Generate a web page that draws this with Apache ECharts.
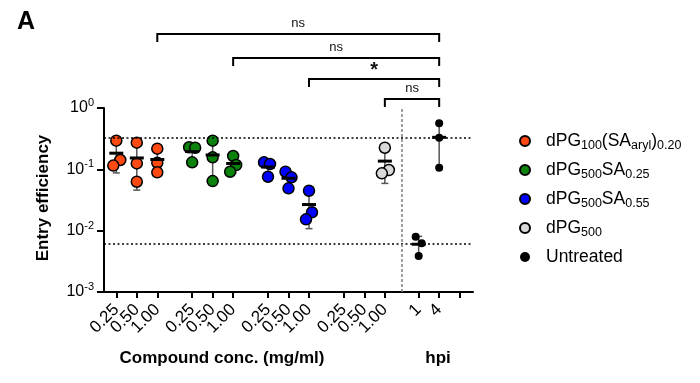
<!DOCTYPE html>
<html><head><meta charset="utf-8">
<script src="https://cdn.jsdelivr.net/npm/echarts@6/dist/echarts.min.js"></script>
<style>html,body{margin:0;padding:0;background:#fff}#c{width:700px;height:383px}</style>
</head><body><div id="c"></div>
<script>
// ---------------- DATA ----------------
const concLabels = ['0.25', '0.50', '1.00'];
const hpiLabels = ['1', '4'];
const seriesNames = ['dPG100(SAaryl)0.20', 'dPG500SA0.25', 'dPG500SA0.55', 'dPG500', 'Untreated'];
const orangeVals = [[0.293, 0.142, 0.115], [0.272, 0.125, 0.0628], [0.217, 0.128, 0.0893]];
const greenVals = [[0.229, 0.225, 0.130], [0.293, 0.157, 0.0644], [0.165, 0.1175, 0.0914]];
const blueVals = [[0.130, 0.122, 0.0757], [0.0914, 0.074, 0.049], [0.0448, 0.0199, 0.0153]];
const dpg500Vals = [[], [], [0.225, 0.0974, 0.086]];
const untreatedVals = [[0.00796, 0.00621, 0.00385], [0.563, 0.328, 0.106]];
const sigLabels = ['ns', 'ns', '*', 'ns'];
const sigFrom = [[0, 2], [1, 2], [2, 2], [3, 2]]; // [compound group, conc index] vs Untreated 4 hpi
const yTickValues = [0.001, 0.01, 0.1, 1];

// ---------------- LAYOUT / STYLE ----------------
const FONT = 'Arial, "Liberation Sans", sans-serif';
const X_MIN = 0, X_MAX = 18;
const groupStart = [0.6, 4.3, 8.0, 11.7];
const hpiStart = 15.35;
const dividerX = 14.5;
const jitter = [
  [[0, 4, -3], [0, 0, 0], [0, 0, 0]],
  [[-3, 3, 0], [0, 0, 0], [0, 3, -3]],
  [[-4, 2, 0], [-3, 3, 0], [0, 3, -3]],
  [[], [], [0, 4, -3]],
  [[-3, 3, 0], [0, 0, 0]]
];
const colors = ['#FF4A12', '#0B820B', '#0000FF', '#D9D9D9', '#000000'];
const bracketLift = [74, 50, 29, 9];
const legendRich = {
  'dPG100(SAaryl)0.20': '{n|dPG}{s|100}{n|(SA}{s|aryl}{n|)}{s|0.20}',
  'dPG500SA0.25': '{n|dPG}{s|500}{n|SA}{s|0.25}',
  'dPG500SA0.55': '{n|dPG}{s|500}{n|SA}{s|0.55}',
  'dPG500': '{n|dPG}{s|500}',
  'Untreated': '{n|Untreated}'
};

const allVals = [orangeVals, greenVals, blueVals, dpg500Vals, untreatedVals];
function xOf(g, i) { return g < 4 ? groupStart[g] + i : hpiStart + i; }
function stats(a) {
  const m = a.reduce((s, v) => s + v, 0) / a.length;
  const sd = Math.sqrt(a.reduce((s, v) => s + (v - m) * (v - m), 0) / (a.length - 1));
  return { m, sd };
}

const tickXs = [];
const labelXs = [X_MIN];
const labelMap = {};
for (let g = 0; g < 4; g++) concLabels.forEach((l, i) => { const x = xOf(g, i); tickXs.push(x); labelXs.push(x); labelMap[x.toFixed(3)] = l; });
hpiLabels.forEach((l, i) => { const x = xOf(4, i); tickXs.push(x); labelXs.push(x); labelMap[x.toFixed(3)] = l; });
tickXs.push(xOf(4, hpiLabels.length));
labelXs.push(X_MAX);

const statData = [];
const series = [];
allVals.forEach((vals, g) => {
  const data = [];
  vals.forEach((reps, i) => {
    if (!reps.length) return;
    const x = xOf(g, i);
    reps.forEach((v, k) => data.push({ value: [x, v], symbolOffset: [jitter[g][i][k] || 0, 0] }));
    const s = stats(reps);
    statData.push([x, s.m, Math.max(s.m - s.sd, 1e-4), s.m + s.sd]);
  });
  const isU = g === 4;
  const ser = {
    name: seriesNames[g], type: 'scatter', data, z: 3,
    symbol: 'circle', symbolSize: isU ? 8 : 11,
    itemStyle: { color: colors[g], borderColor: '#000', borderWidth: isU ? 0 : 1.5, opacity: 1 },
    emphasis: { disabled: true }
  };
  if (isU) {
    const m1 = stats(untreatedVals[0]).m, m4 = stats(untreatedVals[1]).m;
    ser.markLine = {
      silent: true, symbol: 'none', label: { show: false }, animation: false, precision: 8,
      data: [
        { yAxis: m4, lineStyle: { color: '#000', type: [2, 2.5], width: 1.5 } },
        { yAxis: m1, lineStyle: { color: '#000', type: [2, 2.5], width: 1.5 } },
        { xAxis: dividerX, lineStyle: { color: '#808080', type: [3, 2], width: 1.5 } }
      ]
    };
  }
  series.push(ser);
});

series.push({
  type: 'custom', z: 2, data: statData, silent: true,
  encode: { x: 0, y: 1 },
  renderItem(params, api) {
    const x = api.value(0);
    const pLo = api.coord([x, api.value(2)]), pHi = api.coord([x, api.value(3)]);
    const st = { stroke: '#555', lineWidth: 1.5 };
    return { type: 'group', children: [
      { type: 'line', shape: { x1: pLo[0], y1: pLo[1], x2: pHi[0], y2: pHi[1] }, style: st },
      { type: 'line', shape: { x1: pLo[0] - 3.5, y1: pLo[1], x2: pLo[0] + 3.5, y2: pLo[1] }, style: st },
      { type: 'line', shape: { x1: pHi[0] - 3.5, y1: pHi[1], x2: pHi[0] + 3.5, y2: pHi[1] }, style: st }
    ] };
  }
});
series.push({
  type: 'custom', z: 4, data: statData, silent: true,
  encode: { x: 0, y: 1 },
  renderItem(params, api) {
    const p = api.coord([api.value(0), api.value(1)]);
    return { type: 'rect', shape: { x: p[0] - 7, y: p[1] - 1.5, width: 14, height: 3 }, style: { fill: '#000' } };
  }
});
const bracketData = sigFrom.map((f, k) => [xOf(f[0], f[1]), xOf(4, 1), k]);
series.push({
  type: 'custom', z: 5, clip: false, silent: true, data: bracketData,
  encode: { x: 0, y: 2 },
  renderItem(params, api) {
    const k = api.value(2);
    const p1 = api.coord([api.value(0), 1]), p2 = api.coord([api.value(1), 1]);
    const y = p1[1] - bracketLift[k];
    const star = sigLabels[k] === '*';
    return { type: 'group', children: [
      { type: 'polyline', shape: { points: [[p1[0], y + 8], [p1[0], y], [p2[0], y], [p2[0], y + 8]] }, style: { stroke: '#000', lineWidth: 2, fill: null } },
      { type: 'text', style: { text: sigLabels[k], x: (p1[0] + p2[0]) / 2, y: star ? y - 9 : y - 11, align: 'center', verticalAlign: 'middle',
        fontSize: star ? 20 : 13, fontWeight: star ? 'bold' : 'normal', fontFamily: FONT, fill: '#111' } }
    ] };
  }
});

const chart = echarts.init(document.getElementById('c'));
chart.setOption({
  animation: false,
  textStyle: { fontFamily: FONT },
  grid: { left: 104, top: 108, right: 227, bottom: 91, containLabel: false },
  xAxis: {
    type: 'value', min: X_MIN, max: X_MAX, splitLine: { show: false },
    axisLine: { lineStyle: { color: '#000', width: 2 } },
    axisTick: { show: true, length: 6, lineStyle: { color: '#000', width: 2 }, customValues: tickXs },
    axisLabel: { customValues: labelXs, rotate: 45, fontSize: 17, color: '#000', margin: 15,
      showMinLabel: true, showMaxLabel: true, hideOverlap: false,
      formatter: v => labelMap[Number(v).toFixed(3)] || '' }
  },
  yAxis: {
    type: 'log', logBase: 10, min: 0.001, max: 1, splitLine: { show: false },
    axisLine: { show: true, lineStyle: { color: '#000', width: 2 } },
    axisTick: { show: true, length: 7, lineStyle: { color: '#000', width: 2 } },
    minorTick: { show: false },
    axisLabel: { color: '#000', margin: 10, showMinLabel: true, showMaxLabel: true,
      formatter: v => '{b|10}{e|' + Math.round(Math.log10(v)) + '}',
      rich: { b: { fontSize: 16, color: '#000', fontFamily: FONT }, e: { fontSize: 11, color: '#000', padding: [0, 0, 10, 0], fontFamily: FONT } } }
  },
  legend: {
    orient: 'vertical', left: 514, top: 127, itemWidth: 10, itemHeight: 10, itemGap: 8.5,
    data: seriesNames, selectedMode: false,
    formatter: name => legendRich[name],
    textStyle: { color: '#000', padding: [0, 0, 0, 11], rich: {
      n: { fontSize: 17.5, color: '#000', fontFamily: FONT },
      s: { fontSize: 12.5, color: '#000', fontFamily: FONT, padding: [10, 0, 0, 0] }
    } }
  },
  graphic: [
    { type: 'text', left: 17, top: 10, style: { text: 'A', fontSize: 25, fontWeight: 'bold', fontFamily: FONT, fill: '#000' } },
    { type: 'text', x: 43, y: 198, rotation: Math.PI / 2, style: { text: 'Entry efficiency', fontSize: 17, fontWeight: 'bold', fontFamily: FONT, fill: '#000', align: 'center', verticalAlign: 'middle' } },
    { type: 'text', x: 222, y: 358, style: { text: 'Compound conc. (mg/ml)', fontSize: 17, fontWeight: 'bold', fontFamily: FONT, fill: '#000', align: 'center', verticalAlign: 'middle' } },
    { type: 'text', x: 438, y: 358, style: { text: 'hpi', fontSize: 17, fontWeight: 'bold', fontFamily: FONT, fill: '#000', align: 'center', verticalAlign: 'middle' } }
  ],
  series
});
</script></body></html>
